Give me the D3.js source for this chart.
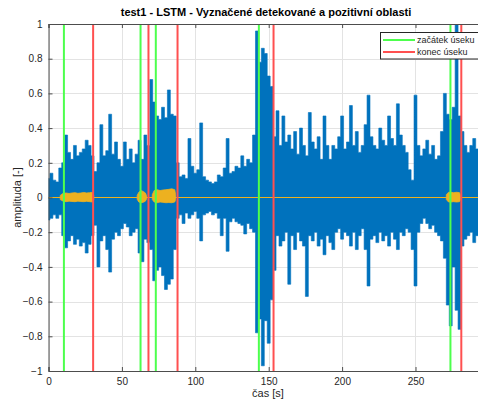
<!DOCTYPE html>
<html>
<head>
<meta charset="utf-8">
<script src="https://cdn.jsdelivr.net/npm/d3@7"></script>
<style>
  body { margin: 0; background: #fff; }
  svg { display: block; font-family: "Liberation Sans", Arial, sans-serif; }
</style>
</head>
<body>
<div id="chart"></div>
<script>
const W = 478, H = 402;

// envelope of the signal, one value every 2 s (t = 0..294)
const sigStep = 2;
const sigHi = [
  0.11, 0.14, 0.10, 0.09, 0.17, 0.20, 0.36, 0.26, 0.22, 0.30,
  0.24, 0.26, 0.28, 0.33, 0.30, 0.24, 0.15, 0.20, 0.42, 0.24,
  0.27, 0.48, 0.25, 0.32, 0.22, 0.18, 0.32, 0.22, 0.28, 0.20,
  0.25, 0.33, 0.22, 0.36, 0.30, 0.68, 0.55, 0.47, 0.45, 0.52,
  0.46, 0.62, 0.48, 0.47, 0.20, 0.12, 0.13, 0.11, 0.34, 0.18,
  0.14, 0.16, 0.43, 0.12, 0.10, 0.09, 0.08, 0.09, 0.13, 0.12,
  0.17, 0.34, 0.14, 0.15, 0.18, 0.17, 0.24, 0.18, 0.22, 0.20,
  0.36, 0.96, 0.78, 0.86, 0.83, 0.70, 0.64, 0.35, 0.50, 0.30,
  0.47, 0.32, 0.36, 0.28, 0.38, 0.25, 0.40, 0.30, 0.24, 0.49,
  0.32, 0.28, 0.35, 0.22, 0.47, 0.30, 0.22, 0.30, 0.28, 0.35,
  0.47, 0.28, 0.32, 0.53, 0.30, 0.38, 0.26, 0.30, 0.42, 0.59,
  0.35, 0.30, 0.28, 0.40, 0.33, 0.30, 0.47, 0.34, 0.30, 0.54,
  0.36, 0.30, 0.26, 0.16, 0.10, 0.59, 0.30, 0.24, 0.28, 0.33,
  0.25, 0.30, 0.22, 0.24, 0.38, 0.60, 0.48, 0.45, 0.52, 1.05,
  0.47, 0.38, 0.30, 0.26, 0.30, 0.34, 0.28, 0.30
];
const sigLo = [
  -0.13, -0.12, -0.10, -0.12, -0.10, -0.22, -0.29, -0.25, -0.22, -0.27,
  -0.24, -0.28, -0.26, -0.32, -0.27, -0.22, -0.16, -0.40, -0.25, -0.22,
  -0.30, -0.43, -0.24, -0.20, -0.22, -0.18, -0.15, -0.17, -0.22, -0.20,
  -0.18, -0.32, -0.37, -0.24, -0.26, -0.30, -0.48, -0.42, -0.40, -0.45,
  -0.53, -0.50, -0.47, -0.30, -0.12, -0.10, -0.15, -0.09, -0.12, -0.10,
  -0.08, -0.12, -0.25, -0.10, -0.09, -0.08, -0.10, -0.09, -0.12, -0.22,
  -0.12, -0.31, -0.14, -0.12, -0.14, -0.15, -0.16, -0.21, -0.15, -0.18,
  -0.20, -0.78, -0.70, -0.97, -0.71, -0.84, -0.59, -0.42, -0.22, -0.28,
  -0.25, -0.20, -0.50, -0.22, -0.30, -0.20, -0.25, -0.28, -0.57, -0.22,
  -0.25, -0.20, -0.28, -0.24, -0.33, -0.22, -0.26, -0.30, -0.20, -0.18,
  -0.24, -0.20, -0.22, -0.28, -0.20, -0.30, -0.22, -0.18, -0.30, -0.51,
  -0.24, -0.22, -0.26, -0.20, -0.25, -0.22, -0.28, -0.20, -0.24, -0.30,
  -0.20, -0.22, -0.18, -0.20, -0.30, -0.51, -0.20, -0.15, -0.12, -0.15,
  -0.18, -0.16, -0.20, -0.22, -0.25, -0.35, -0.62, -0.74, -0.40, -0.65,
  -0.76, -0.28, -0.24, -0.22, -0.20, -0.26, -0.22, -0.24
];

// positive regions (orange), null separates the regions
const posT  = [8, 10, 12, 14, 16, 18, 20, 22, 24, 26, 28, 30, 30.8, null,
               60.4, 61.5, 63, 64.5, 66, 66.8, null,
               70.7, 72, 74, 76, 78, 80, 82, 84, 86, 86.6, null,
               271, 272.5, 274, 276, 278, 280, 280.7];
const posHi = [0.012, 0.024, 0.026, 0.023, 0.026, 0.028, 0.024, 0.026, 0.029, 0.026, 0.028, 0.030, 0.012, null,
               0.012, 0.030, 0.040, 0.035, 0.026, 0.010, null,
               0.016, 0.040, 0.045, 0.040, 0.043, 0.045, 0.047, 0.050, 0.045, 0.016, null,
               0.016, 0.030, 0.030, 0.028, 0.030, 0.028, 0.012];
const posLo = [-0.012, -0.021, -0.024, -0.021, -0.023, -0.024, -0.021, -0.023, -0.024, -0.022, -0.024, -0.026, -0.012, null,
               -0.010, -0.026, -0.030, -0.028, -0.021, -0.008, null,
               -0.012, -0.026, -0.030, -0.026, -0.028, -0.030, -0.029, -0.030, -0.026, -0.012, null,
               -0.012, -0.026, -0.026, -0.024, -0.026, -0.024, -0.010];

const startTimes = [10.5, 62.7, 73.1, 143.3, 273.8];
const endTimes   = [30.4, 68.1, 87.9, 153.3, 281.2];

const xTicks = [0, 50, 100, 150, 200, 250];
const yTicks = [-1, -0.8, -0.6, -0.4, -0.2, 0, 0.2, 0.4, 0.6, 0.8, 1];

const BLUE = '#0072bd', ORANGE = '#edb120', GREEN = '#4dff4d', RED = '#ff5050';

const L = 48.5, T = 24, B = 371;
const x = d3.scaleLinear().domain([0, 295]).range([L, L + 367 * 295 / 250]);
const y = d3.scaleLinear().domain([-1, 1]).range([B, T]);
const R = x.range()[1];

const svg = d3.select('#chart').append('svg')
  .attr('width', W).attr('height', H);

svg.append('defs').append('clipPath').attr('id', 'clip')
  .append('rect').attr('x', L).attr('y', T).attr('width', R - L).attr('height', B - T);

// grid
const grid = svg.append('g').attr('stroke', '#e3e3e3').attr('stroke-width', 1);
grid.selectAll('.gx').data(xTicks).enter().append('line')
  .attr('x1', d => Math.round(x(d)) + 0.5).attr('x2', d => Math.round(x(d)) + 0.5)
  .attr('y1', T).attr('y2', B);
grid.selectAll('.gy').data(yTicks).enter().append('line')
  .attr('y1', d => Math.round(y(d)) + 0.5).attr('y2', d => Math.round(y(d)) + 0.5)
  .attr('x1', L).attr('x2', R);

const plot = svg.append('g').attr('clip-path', 'url(#clip)');

// signal
const sig = sigHi.map((h, i) => ({ t: i * sigStep, hi: h, lo: sigLo[i] }));
plot.append('path')
  .datum(sig)
  .attr('fill', BLUE)
  .attr('stroke', BLUE)
  .attr('stroke-width', 0.6)
  .attr('d', d3.area().curve(d3.curveStep).x(d => x(d.t)).y0(d => y(d.lo)).y1(d => y(d.hi)));

// zero line + positive regions
plot.append('line')
  .attr('x1', L).attr('x2', R).attr('y1', y(0)).attr('y2', y(0))
  .attr('stroke', ORANGE).attr('stroke-width', 1);

const pos = posT.map((t, i) => ({ t: t, hi: posHi[i], lo: posLo[i] }));
plot.append('path')
  .datum(pos)
  .attr('fill', ORANGE)
  .attr('stroke', ORANGE)
  .attr('stroke-width', 0.8)
  .attr('d', d3.area().defined(d => d.t !== null)
    .x(d => x(d.t)).y0(d => y(d.lo)).y1(d => y(d.hi)));

// start / end markers
plot.selectAll('.start').data(startTimes).enter().append('line')
  .attr('x1', d => x(d)).attr('x2', d => x(d)).attr('y1', T).attr('y2', B)
  .attr('stroke', GREEN).attr('stroke-width', 2);
plot.selectAll('.end').data(endTimes).enter().append('line')
  .attr('x1', d => x(d)).attr('x2', d => x(d)).attr('y1', T).attr('y2', B)
  .attr('stroke', RED).attr('stroke-width', 2);

// axes
const axCol = '#4d4d4d', txtCol = '#262626';
const xAxis = svg.append('g').attr('transform', `translate(0,${B})`)
  .call(d3.axisBottom(x).tickValues(xTicks).tickSize(-4).tickPadding(7).tickFormat(d3.format('d')));
const xAxisTop = svg.append('g').attr('transform', `translate(0,${T})`)
  .call(d3.axisTop(x).tickValues(xTicks).tickSize(-4).tickFormat(''));
const yAxis = svg.append('g').attr('transform', `translate(${L},0)`)
  .call(d3.axisLeft(y).tickValues(yTicks).tickSize(-4).tickPadding(6).tickFormat(d => d === 0 ? '0' : d3.format('')(+d.toFixed(1))));

[xAxis, xAxisTop, yAxis].forEach(g => {
  g.select('.domain').attr('stroke', axCol);
  g.selectAll('.tick line').attr('stroke', axCol);
  g.selectAll('.tick text').attr('fill', txtCol).style('font-size', '10px')
    .style('font-family', '"Liberation Sans", Arial, sans-serif');
});

// legend
const lg = svg.append('g');
lg.append('rect').attr('x', 380.5).attr('y', 32.5).attr('width', 110).attr('height', 26.5)
  .attr('fill', '#fff').attr('stroke', '#262626').attr('stroke-width', 1);
const items = [['začátek úseku', GREEN], ['konec úseku', RED]];
items.forEach((it, i) => {
  const yy = 40 + i * 12;
  lg.append('line').attr('x1', 383).attr('x2', 415).attr('y1', yy).attr('y2', yy)
    .attr('stroke', it[1]).attr('stroke-width', 2);
  lg.append('text').attr('x', 417).attr('y', yy).attr('dy', '0.35em')
    .attr('fill', txtCol).style('font-size', '9px').text(it[0]);
});

// labels
svg.append('text').attr('x', 266).attr('y', 16).attr('text-anchor', 'middle')
  .style('font-size', '11px').style('font-weight', 'bold').attr('fill', '#000')
  .text('test1 - LSTM - Vyznačené detekované a pozitivní oblasti');
svg.append('text').attr('transform', `translate(21,${y(0)}) rotate(-90)`)
  .attr('text-anchor', 'middle').style('font-size', '11px').attr('fill', txtCol)
  .text('amplituda [-]');
svg.append('text').attr('x', 268).attr('y', 397).attr('text-anchor', 'middle')
  .style('font-size', '11px').attr('fill', txtCol).text('čas [s]');
</script>
</body>
</html>
